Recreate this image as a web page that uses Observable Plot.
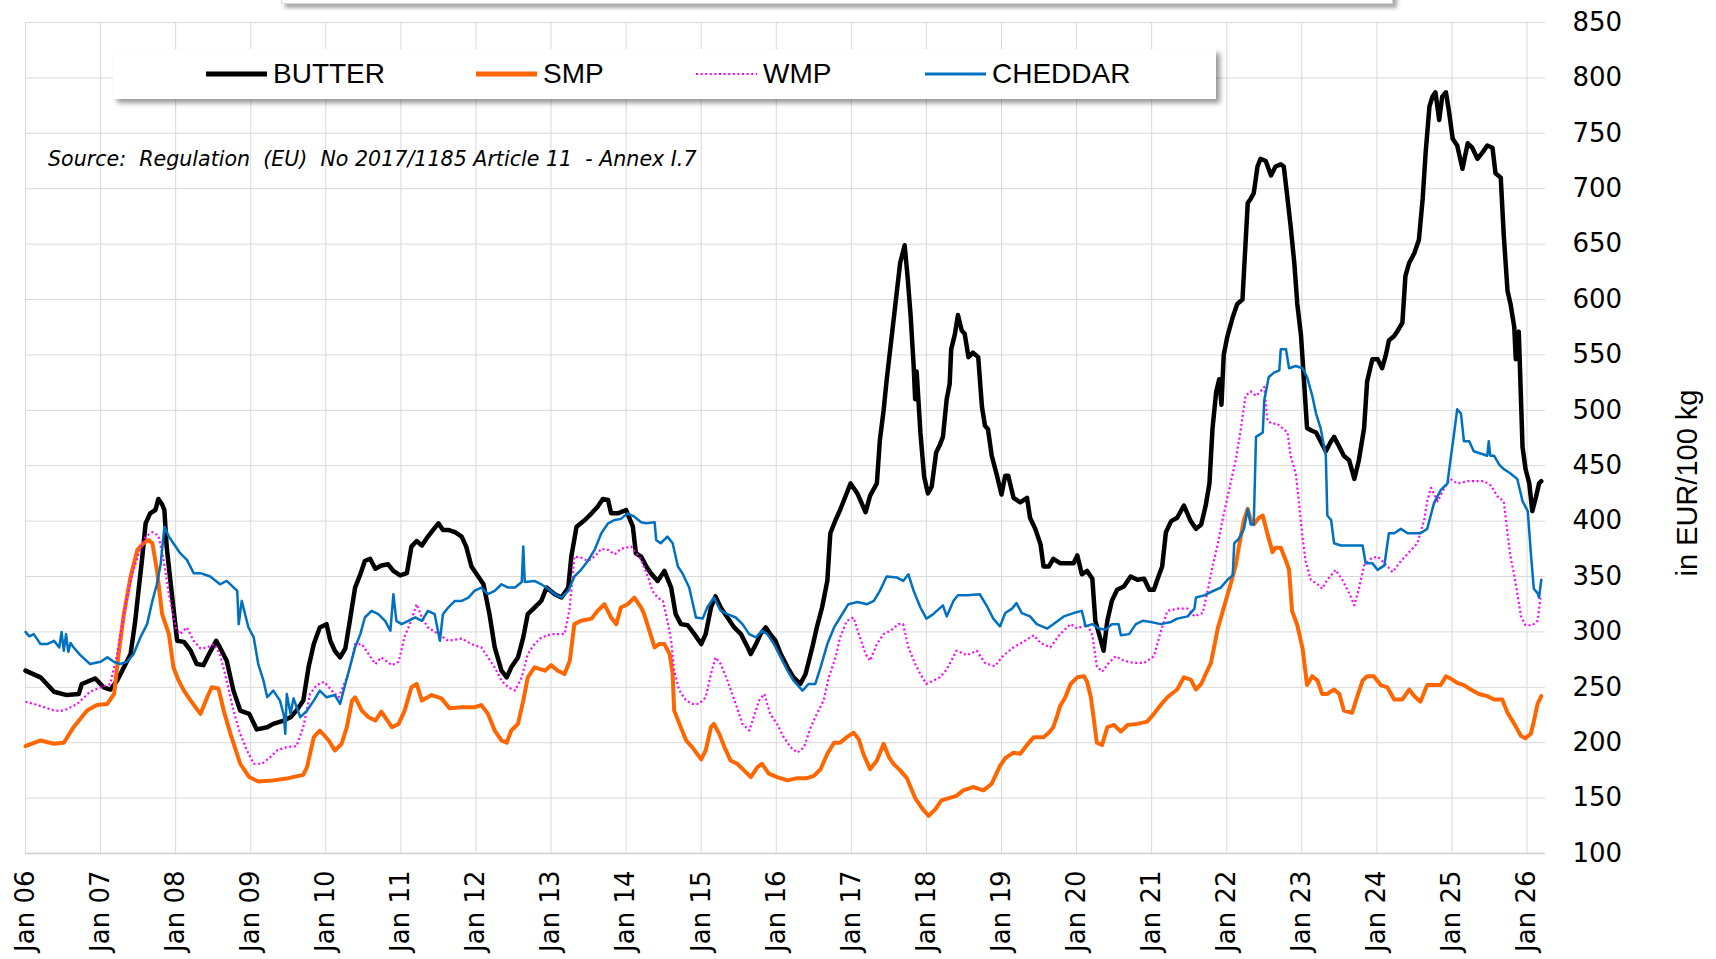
<!DOCTYPE html>
<html>
<head>
<meta charset="utf-8">
<script src="https://cdn.jsdelivr.net/npm/d3@7"></script>
<script src="https://cdn.jsdelivr.net/npm/@observablehq/plot@0.6"></script>
<style>
  html, body { margin: 0; padding: 0; background: #fff; }
  #wrap { position: relative; width: 1716px; height: 959px; overflow: hidden; background: #fff; }
  #chart svg { display: block; }
  .topbox { position: absolute; left: 281px; top: -40px; width: 1110px; height: 42px; background: #fff;
            border: 1px solid #d9d9d9; box-shadow: 4px 4px 4px rgba(0,0,0,0.35); }
  .legend { position: absolute; left: 113px; top: 49px; width: 1103px; height: 50px; background: #fff;
            box-shadow: 4px 4px 5px rgba(0,0,0,0.4); font-family: "Liberation Sans", Arial, sans-serif; font-size: 28px; color: #000; }
  .item { position: absolute; top: 0; height: 50px; display: flex; align-items: center; white-space: nowrap; }
  .item svg { display: block; margin-right: 6px; }
  .source { position: absolute; left: 48px; top: 147px; line-height: 24px; font-family: "DejaVu Sans", Verdana, sans-serif;
            font-style: italic; font-size: 20.6px; color: #000; white-space: pre; }
</style>
</head>
<body>
<div id="wrap">
  <div id="chart"></div>
  <div class="topbox"></div>
  <div class="legend" id="legend"></div>
  <div class="source" id="source"></div>
</div>
<script>
// ---------------- data (decimal year, EUR/100 kg) ----------------
const BUTTER = [
[2006.00,265],[2006.20,259],[2006.38,246],[2006.55,243],[2006.71,244],[2006.75,253],[2006.93,258],[2007.04,250],[2007.13,248],
[2007.22,256],[2007.31,268],[2007.40,280],[2007.46,309],[2007.51,340],[2007.55,364],[2007.60,398],[2007.66,407],[2007.73,410],
[2007.77,420],[2007.82,415],[2007.85,410],[2007.88,377],[2007.93,346],[2007.98,316],[2008.02,292],[2008.11,291],[2008.20,283],
[2008.28,271],[2008.37,270],[2008.46,282],[2008.54,292],[2008.59,286],[2008.68,274],[2008.77,247],[2008.86,229],[2008.98,226],
[2009.08,212],[2009.22,214],[2009.30,217],[2009.44,220],[2009.53,223],[2009.61,229],[2009.70,238],[2009.77,268],[2009.84,289],
[2009.92,304],[2010.01,307],[2010.06,292],[2010.12,283],[2010.19,277],[2010.26,285],[2010.32,310],[2010.39,340],[2010.46,352],
[2010.52,364],[2010.59,366],[2010.66,357],[2010.74,360],[2010.83,361],[2010.90,355],[2010.99,351],[2011.08,353],[2011.14,377],
[2011.21,382],[2011.28,378],[2011.36,386],[2011.43,392],[2011.50,398],[2011.56,392],[2011.63,392],[2011.72,390],[2011.81,386],
[2011.87,377],[2011.94,359],[2012.03,350],[2012.10,343],[2012.18,316],[2012.25,286],[2012.34,265],[2012.41,259],[2012.47,268],
[2012.56,277],[2012.63,295],[2012.69,316],[2012.78,322],[2012.87,328],[2012.94,340],[2013.05,334],[2013.14,331],[2013.23,340],
[2013.27,368],[2013.34,395],[2013.45,401],[2013.54,407],[2013.62,413],[2013.69,420],[2013.76,419],[2013.80,407],[2013.89,407],
[2014.00,410],[2014.09,395],[2014.13,371],[2014.20,368],[2014.27,359],[2014.33,353],[2014.42,346],[2014.51,355],[2014.60,340],
[2014.66,316],[2014.73,307],[2014.82,306],[2014.91,298],[2015.00,289],[2015.06,298],[2015.13,322],[2015.19,332],[2015.26,322],
[2015.35,313],[2015.44,304],[2015.53,298],[2015.62,286],[2015.66,280],[2015.73,289],[2015.79,298],[2015.86,304],[2015.92,298],
[2015.99,292],[2016.06,280],[2016.15,268],[2016.23,259],[2016.32,253],[2016.39,262],[2016.48,286],[2016.54,304],[2016.61,322],
[2016.68,346],[2016.72,389],[2016.79,401],[2016.85,410],[2016.92,422],[2016.99,434],[2017.08,425],[2017.19,408],[2017.25,423],
[2017.34,434],[2017.38,473],[2017.43,500],[2017.47,527],[2017.55,574],[2017.65,633],[2017.71,649],[2017.75,620],[2017.79,585],
[2017.83,540],[2017.85,510],[2017.87,535],[2017.92,480],[2017.97,440],[2018.02,425],[2018.07,431],[2018.13,462],[2018.18,469],
[2018.22,476],[2018.27,510],[2018.31,524],[2018.33,555],[2018.38,569],[2018.42,586],[2018.47,572],[2018.51,569],[2018.56,548],
[2018.62,552],[2018.69,548],[2018.74,503],[2018.78,486],[2018.82,483],[2018.87,459],[2018.94,441],[2019.00,424],[2019.05,441],
[2019.09,441],[2019.16,421],[2019.25,417],[2019.34,421],[2019.38,403],[2019.45,393],[2019.52,379],[2019.56,359],[2019.63,359],
[2019.69,366],[2019.78,362],[2019.87,362],[2019.96,362],[2020.01,369],[2020.07,352],[2020.14,355],[2020.21,348],[2020.25,310],
[2020.32,293],[2020.36,283],[2020.41,310],[2020.47,328],[2020.54,338],[2020.63,341],[2020.72,350],[2020.81,347],[2020.90,348],
[2020.97,338],[2021.03,338],[2021.08,348],[2021.14,359],[2021.19,390],[2021.26,400],[2021.34,403],[2021.43,414],[2021.52,400],
[2021.59,393],[2021.66,397],[2021.72,414],[2021.77,434],[2021.81,483],[2021.86,517],[2021.90,528],[2021.93,505],[2021.96,550],
[2022.01,567],[2022.08,584],[2022.14,596],[2022.21,600],[2022.25,650],[2022.28,687],[2022.32,691],[2022.36,696],[2022.41,720],
[2022.45,727],[2022.52,725],[2022.59,712],[2022.65,720],[2022.72,722],[2022.76,720],[2022.81,691],[2022.85,667],[2022.90,633],
[2022.94,596],[2022.99,567],[2023.03,526],[2023.07,484],[2023.12,482],[2023.19,480],[2023.25,472],[2023.32,463],[2023.39,472],
[2023.43,476],[2023.50,467],[2023.56,459],[2023.63,455],[2023.70,438],[2023.76,455],[2023.83,484],[2023.87,526],[2023.94,546],
[2024.01,546],[2024.07,538],[2024.12,550],[2024.16,563],[2024.23,567],[2024.27,571],[2024.34,579],[2024.38,621],[2024.43,633],
[2024.50,642],[2024.56,654],[2024.61,691],[2024.65,733],[2024.70,774],[2024.74,783],[2024.78,787],[2024.83,762],[2024.87,783],
[2024.92,787],[2024.96,770],[2025.01,745],[2025.07,739],[2025.14,718],[2025.21,741],[2025.27,737],[2025.34,727],[2025.41,733],
[2025.47,739],[2025.54,737],[2025.58,714],[2025.65,710],[2025.69,658],[2025.74,608],[2025.78,596],[2025.83,575],[2025.85,546],
[2025.89,571],[2025.94,467],[2025.98,447],[2026.03,434],[2026.07,409],[2026.12,422],[2026.16,434],[2026.19,436]
];

const SMP = [
[2006.00,197],[2006.20,202],[2006.38,199],[2006.51,200],[2006.64,214],[2006.82,229],[2006.95,234],[2007.09,235],[2007.18,244],
[2007.24,280],[2007.31,316],[2007.40,350],[2007.49,374],[2007.57,380],[2007.64,383],[2007.69,380],[2007.75,356],[2007.82,316],
[2007.91,298],[2007.97,268],[2008.04,256],[2008.11,247],[2008.20,238],[2008.33,226],[2008.42,241],[2008.48,250],[2008.57,249],
[2008.64,229],[2008.73,208],[2008.86,181],[2008.98,169],[2009.10,165],[2009.30,166],[2009.50,168],[2009.70,171],[2009.75,178],
[2009.84,205],[2009.92,211],[2010.04,202],[2010.12,193],[2010.21,199],[2010.28,214],[2010.35,238],[2010.39,241],[2010.48,229],
[2010.57,223],[2010.66,220],[2010.74,228],[2010.88,214],[2010.97,217],[2011.05,229],[2011.14,250],[2011.21,253],[2011.28,238],
[2011.41,243],[2011.54,240],[2011.65,231],[2011.81,232],[2011.98,232],[2012.07,234],[2012.16,226],[2012.25,211],[2012.34,202],
[2012.41,200],[2012.47,211],[2012.56,217],[2012.63,238],[2012.69,259],[2012.78,268],[2012.92,265],[2013.00,270],[2013.09,265],
[2013.18,262],[2013.25,274],[2013.31,307],[2013.40,310],[2013.54,312],[2013.62,319],[2013.71,325],[2013.80,313],[2013.87,307],
[2013.93,322],[2014.02,325],[2014.11,331],[2014.20,322],[2014.24,316],[2014.31,301],[2014.38,286],[2014.44,289],[2014.51,289],
[2014.58,280],[2014.62,262],[2014.64,229],[2014.71,217],[2014.80,202],[2014.88,196],[2015.00,185],[2015.06,193],[2015.13,214],
[2015.17,217],[2015.24,208],[2015.31,196],[2015.39,184],[2015.48,181],[2015.57,175],[2015.66,169],[2015.75,178],[2015.81,181],
[2015.90,172],[2016.01,169],[2016.15,166],[2016.28,168],[2016.41,168],[2016.50,170],[2016.59,176],[2016.68,190],[2016.77,200],
[2016.85,200],[2016.94,205],[2017.03,209],[2017.10,203],[2017.16,190],[2017.25,176],[2017.34,184],[2017.43,199],[2017.50,187],
[2017.56,181],[2017.65,175],[2017.74,168],[2017.85,150],[2017.95,140],[2018.03,134],[2018.12,140],[2018.20,148],[2018.30,150],
[2018.40,152],[2018.49,157],[2018.62,160],[2018.76,157],[2018.87,163],[2018.98,179],[2019.05,186],[2019.16,191],[2019.25,190],
[2019.34,198],[2019.43,205],[2019.56,205],[2019.63,209],[2019.69,214],[2019.74,224],[2019.78,233],[2019.85,241],[2019.92,253],
[2020.01,259],[2020.10,260],[2020.14,255],[2020.19,241],[2020.23,221],[2020.27,200],[2020.34,198],[2020.41,214],[2020.50,216],
[2020.59,210],[2020.68,216],[2020.81,217],[2020.94,219],[2021.03,226],[2021.12,234],[2021.21,241],[2021.34,248],[2021.43,259],
[2021.52,257],[2021.59,248],[2021.66,253],[2021.72,262],[2021.79,272],[2021.88,303],[2021.97,324],[2022.06,345],[2022.12,360],
[2022.16,376],[2022.23,401],[2022.28,411],[2022.32,401],[2022.36,397],[2022.43,403],[2022.48,405],[2022.54,389],[2022.61,372],
[2022.65,376],[2022.72,376],[2022.79,364],[2022.83,356],[2022.87,319],[2022.94,306],[2023.01,285],[2023.07,252],[2023.14,260],
[2023.21,256],[2023.27,244],[2023.34,244],[2023.43,248],[2023.50,244],[2023.56,229],[2023.67,227],[2023.74,242],[2023.81,256],
[2023.87,260],[2023.96,260],[2024.05,252],[2024.14,250],[2024.23,239],[2024.34,239],[2024.43,248],[2024.50,242],[2024.58,237],
[2024.67,252],[2024.76,252],[2024.85,252],[2024.92,260],[2024.98,258],[2025.07,254],[2025.16,252],[2025.25,248],[2025.36,244],
[2025.47,242],[2025.56,239],[2025.67,239],[2025.74,227],[2025.83,217],[2025.92,206],[2025.98,204],[2026.05,208],[2026.09,219],
[2026.14,235],[2026.19,242]
];

const WMP = [
[2006.00,237],[2006.16,234],[2006.38,229],[2006.51,229],[2006.69,235],[2006.86,246],[2007.00,250],[2007.13,253],[2007.22,280],
[2007.31,316],[2007.42,352],[2007.51,371],[2007.60,386],[2007.69,390],[2007.77,387],[2007.84,365],[2007.91,334],[2008.00,304],
[2008.06,298],[2008.15,304],[2008.24,292],[2008.33,285],[2008.42,286],[2008.51,289],[2008.59,280],[2008.68,256],[2008.77,229],
[2008.86,208],[2008.95,193],[2009.04,181],[2009.15,181],[2009.26,187],[2009.35,193],[2009.48,196],[2009.61,197],[2009.70,214],
[2009.79,244],[2009.88,252],[2009.98,255],[2010.08,247],[2010.17,241],[2010.30,262],[2010.39,289],[2010.48,289],[2010.57,280],
[2010.66,271],[2010.74,277],[2010.88,270],[2010.97,273],[2011.05,296],[2011.12,307],[2011.21,325],[2011.28,313],[2011.36,304],
[2011.50,298],[2011.63,292],[2011.81,294],[2011.94,289],[2012.07,286],[2012.16,277],[2012.25,268],[2012.34,256],[2012.43,250],
[2012.52,247],[2012.61,259],[2012.69,280],[2012.78,289],[2012.87,295],[2013.00,298],[2013.18,298],[2013.25,322],[2013.31,368],
[2013.40,367],[2013.49,364],[2013.58,368],[2013.67,375],[2013.76,374],[2013.85,370],[2013.93,375],[2014.07,377],[2014.20,365],
[2014.29,350],[2014.35,337],[2014.42,331],[2014.49,328],[2014.55,310],[2014.60,292],[2014.64,265],[2014.71,247],[2014.80,238],
[2014.88,235],[2014.97,235],[2015.06,241],[2015.13,262],[2015.19,277],[2015.26,271],[2015.35,256],[2015.46,235],[2015.55,217],
[2015.64,211],[2015.70,223],[2015.77,238],[2015.84,244],[2015.92,226],[2016.01,217],[2016.10,205],[2016.19,196],[2016.28,191],
[2016.37,196],[2016.46,214],[2016.54,226],[2016.63,238],[2016.70,259],[2016.79,277],[2016.85,295],[2016.94,310],[2017.03,313],
[2017.10,298],[2017.19,280],[2017.25,274],[2017.34,289],[2017.43,298],[2017.52,301],[2017.63,307],[2017.69,307],[2017.76,286],
[2017.85,271],[2017.92,262],[2018.00,253],[2018.09,256],[2018.18,259],[2018.27,266],[2018.40,283],[2018.54,279],[2018.67,283],
[2018.78,272],[2018.91,269],[2019.03,279],[2019.16,286],[2019.29,291],[2019.43,297],[2019.52,290],[2019.65,286],[2019.78,298],
[2019.92,307],[2020.01,303],[2020.14,307],[2020.21,297],[2020.27,269],[2020.34,264],[2020.43,272],[2020.52,278],[2020.63,274],
[2020.76,272],[2020.90,272],[2021.03,278],[2021.12,300],[2021.21,319],[2021.34,321],[2021.48,321],[2021.57,314],[2021.68,317],
[2021.75,338],[2021.81,359],[2021.88,379],[2021.95,403],[2022.05,434],[2022.12,455],[2022.19,484],[2022.25,513],[2022.32,517],
[2022.39,513],[2022.45,517],[2022.50,521],[2022.54,492],[2022.59,488],[2022.67,488],[2022.74,484],[2022.81,480],[2022.85,459],
[2022.92,443],[2022.96,418],[2023.01,385],[2023.05,364],[2023.12,347],[2023.21,343],[2023.27,339],[2023.34,347],[2023.45,356],
[2023.54,347],[2023.63,335],[2023.70,324],[2023.76,339],[2023.83,360],[2023.92,366],[2024.01,368],[2024.10,362],[2024.21,354],
[2024.32,364],[2024.43,372],[2024.54,380],[2024.63,401],[2024.67,418],[2024.72,430],[2024.81,418],[2024.90,430],[2024.98,438],
[2025.07,434],[2025.21,436],[2025.34,436],[2025.43,436],[2025.52,432],[2025.61,422],[2025.69,418],[2025.74,389],[2025.78,368],
[2025.83,351],[2025.87,335],[2025.92,314],[2025.98,306],[2026.07,306],[2026.14,310],[2026.18,331]
];

const CHEDDAR = [
[2006.00,300],[2006.05,296],[2006.11,298],[2006.20,289],[2006.29,289],[2006.38,292],[2006.45,286],[2006.48,300],[2006.51,283],
[2006.54,298],[2006.57,282],[2006.60,290],[2006.64,286],[2006.73,279],[2006.86,271],[2007.00,273],[2007.09,277],[2007.18,273],
[2007.26,271],[2007.35,273],[2007.44,280],[2007.53,295],[2007.62,307],[2007.69,328],[2007.75,343],[2007.80,361],[2007.85,395],
[2007.91,386],[2007.97,380],[2008.06,371],[2008.15,365],[2008.24,353],[2008.33,353],[2008.46,350],[2008.59,343],[2008.68,346],
[2008.82,337],[2008.84,307],[2008.88,328],[2008.97,304],[2009.04,295],[2009.10,271],[2009.17,256],[2009.22,241],[2009.30,247],
[2009.39,238],[2009.44,225],[2009.46,208],[2009.48,244],[2009.53,226],[2009.57,240],[2009.66,223],[2009.75,229],[2009.84,238],
[2009.92,247],[2010.01,241],[2010.12,243],[2010.19,235],[2010.26,253],[2010.32,268],[2010.39,286],[2010.46,298],[2010.52,313],
[2010.61,319],[2010.70,316],[2010.79,310],[2010.86,301],[2010.90,334],[2010.94,310],[2011.01,307],[2011.10,310],[2011.19,313],
[2011.28,310],[2011.36,319],[2011.45,316],[2011.52,292],[2011.56,316],[2011.63,322],[2011.72,328],[2011.81,328],[2011.90,331],
[2011.98,337],[2012.07,340],[2012.16,334],[2012.25,337],[2012.34,343],[2012.43,340],[2012.52,340],[2012.61,345],[2012.63,377],
[2012.65,345],[2012.78,346],[2012.87,343],[2012.96,339],[2013.05,334],[2013.14,331],[2013.23,337],[2013.31,350],[2013.40,356],
[2013.49,364],[2013.58,374],[2013.67,389],[2013.76,398],[2013.85,401],[2013.93,402],[2014.02,407],[2014.11,404],[2014.20,399],
[2014.27,398],[2014.38,399],[2014.40,383],[2014.46,380],[2014.55,386],[2014.62,380],[2014.69,359],[2014.75,353],[2014.84,340],
[2014.93,313],[2015.02,312],[2015.08,322],[2015.17,331],[2015.26,319],[2015.35,316],[2015.46,313],[2015.55,307],[2015.64,298],
[2015.73,295],[2015.81,301],[2015.88,298],[2015.97,289],[2016.06,277],[2016.15,265],[2016.23,256],[2016.35,247],[2016.43,253],
[2016.52,253],[2016.59,268],[2016.68,289],[2016.77,304],[2016.85,313],[2016.96,325],[2017.08,327],[2017.21,325],[2017.30,328],
[2017.38,337],[2017.47,350],[2017.61,349],[2017.69,346],[2017.76,352],[2017.83,337],[2017.92,322],[2018.00,312],[2018.09,316],
[2018.22,324],[2018.27,314],[2018.36,328],[2018.42,333],[2018.54,333],[2018.71,334],[2018.80,324],[2018.89,312],[2018.98,305],
[2019.05,317],[2019.14,321],[2019.20,326],[2019.27,317],[2019.38,314],[2019.47,307],[2019.61,303],[2019.69,307],[2019.83,314],
[2019.96,317],[2020.07,319],[2020.12,305],[2020.21,307],[2020.30,303],[2020.39,302],[2020.47,307],[2020.56,307],[2020.59,297],
[2020.70,298],[2020.79,307],[2020.88,310],[2020.99,309],[2021.12,307],[2021.26,309],[2021.34,312],[2021.48,314],[2021.57,321],
[2021.59,331],[2021.70,333],[2021.79,336],[2021.92,340],[2022.01,347],[2022.08,351],[2022.10,380],[2022.16,384],[2022.23,393],
[2022.28,411],[2022.32,397],[2022.36,397],[2022.39,476],[2022.48,480],[2022.50,509],[2022.56,530],[2022.63,534],[2022.70,536],
[2022.72,555],[2022.79,555],[2022.83,538],[2022.92,540],[2023.01,538],[2023.07,530],[2023.14,513],[2023.19,497],[2023.25,484],
[2023.32,459],[2023.34,405],[2023.39,401],[2023.43,380],[2023.52,378],[2023.61,378],[2023.70,378],[2023.81,378],[2023.85,362],
[2023.94,362],[2024.01,356],[2024.10,360],[2024.16,389],[2024.23,389],[2024.32,393],[2024.41,389],[2024.58,389],[2024.67,393],
[2024.76,416],[2024.85,428],[2024.94,434],[2024.98,455],[2025.03,480],[2025.07,501],[2025.12,497],[2025.16,472],[2025.23,472],
[2025.29,463],[2025.38,461],[2025.47,459],[2025.49,472],[2025.51,459],[2025.56,459],[2025.63,451],[2025.69,447],[2025.78,443],
[2025.87,438],[2025.94,418],[2026.01,409],[2026.05,372],[2026.09,339],[2026.14,335],[2026.16,331],[2026.19,347]
];

const SERIES_NAMES = ["BUTTER", "SMP", "WMP", "CHEDDAR"];
const X_TICKS = d3.range(2006, 2027);          // Jan of each year
const Y_TICKS = d3.range(100, 851, 50);
const Y_LABEL = "in EUR/100 kg";
const SOURCE = "Source:  Regulation  (EU)  No 2017/1185 Article 11  - Annex I.7";

// ---------------- styles ----------------
const STYLE = {
  BUTTER:  {data: BUTTER,  color: "#000000", width: 4.5, dash: null},
  SMP:     {data: SMP,     color: "#FF6600", width: 4,   dash: null},
  WMP:     {data: WMP,     color: "#FF00FF", width: 2.2, dash: "2,2.6"},
  CHEDDAR: {data: CHEDDAR, color: "#0070C0", width: 2.5, dash: null}
};

const lines = SERIES_NAMES.map(name => {
  const s = STYLE[name];
  return Plot.line(s.data, {
    x: d => d[0], y: d => d[1],
    stroke: s.color, strokeWidth: s.width,
    strokeDasharray: s.dash, strokeLinejoin: "round",
    strokeLinecap: s.dash ? "butt" : "round"
  });
});

const chart = Plot.plot({
  width: 1716, height: 959,
  marginLeft: 25, marginRight: 171, marginTop: 22, marginBottom: 106,
  style: {fontFamily: "DejaVu Sans, Verdana, sans-serif", background: "#fff", color: "#000", overflow: "visible"},
  x: {type: "linear", domain: [2006, 2026.246]},
  y: {domain: [100, 850]},
  marks: [
    Plot.gridX({ticks: X_TICKS, stroke: "#d9d9d9", strokeOpacity: 1, strokeWidth: 1}),
    Plot.gridY({ticks: Y_TICKS, stroke: "#d9d9d9", strokeOpacity: 1, strokeWidth: 1}),
    Plot.ruleY([100], {stroke: "#d0d0d0", strokeWidth: 1.5}),
    Plot.axisX({ticks: X_TICKS, tickFormat: d => "Jan " + String(d).slice(2), tickRotate: -90,
                tickSize: 0, tickPadding: 17, fontSize: 26, label: null}),
    Plot.axisY({anchor: "right", ticks: Y_TICKS, tickSize: 0, tickPadding: 27, fontSize: 26, label: null}),
    ...lines,
    Plot.text([Y_LABEL], {text: d => d, frameAnchor: "right", dx: 142, dy: 45, rotate: -90,
                          textAnchor: "middle", lineAnchor: "middle",
                          fontSize: 29, fontFamily: "Liberation Sans, Arial, sans-serif", fill: "#000"})
  ]
});
document.getElementById("chart").appendChild(chart);

// ---------------- legend ----------------
const LEGEND_X = {BUTTER: 93, SMP: 363, WMP: 583, CHEDDAR: 812};  // left of swatch within legend box
const legend = document.getElementById("legend");
for (const name of SERIES_NAMES) {
  const s = STYLE[name];
  const item = document.createElement("div");
  item.className = "item";
  item.style.left = LEGEND_X[name] + "px";
  const sw = 61;
  item.innerHTML =
    `<svg width="${sw}" height="12"><line x1="0" x2="${sw}" y1="6" y2="6" stroke="${s.color}" ` +
    `stroke-width="${name === "WMP" ? 2.2 : (name === "CHEDDAR" ? 3 : 5)}" ` +
    (s.dash ? `stroke-dasharray="${s.dash}" ` : `stroke-linecap="round" `) + `/></svg><span>${name}</span>`;
  legend.appendChild(item);
}
document.getElementById("source").textContent = SOURCE;
</script>
</body>
</html>
